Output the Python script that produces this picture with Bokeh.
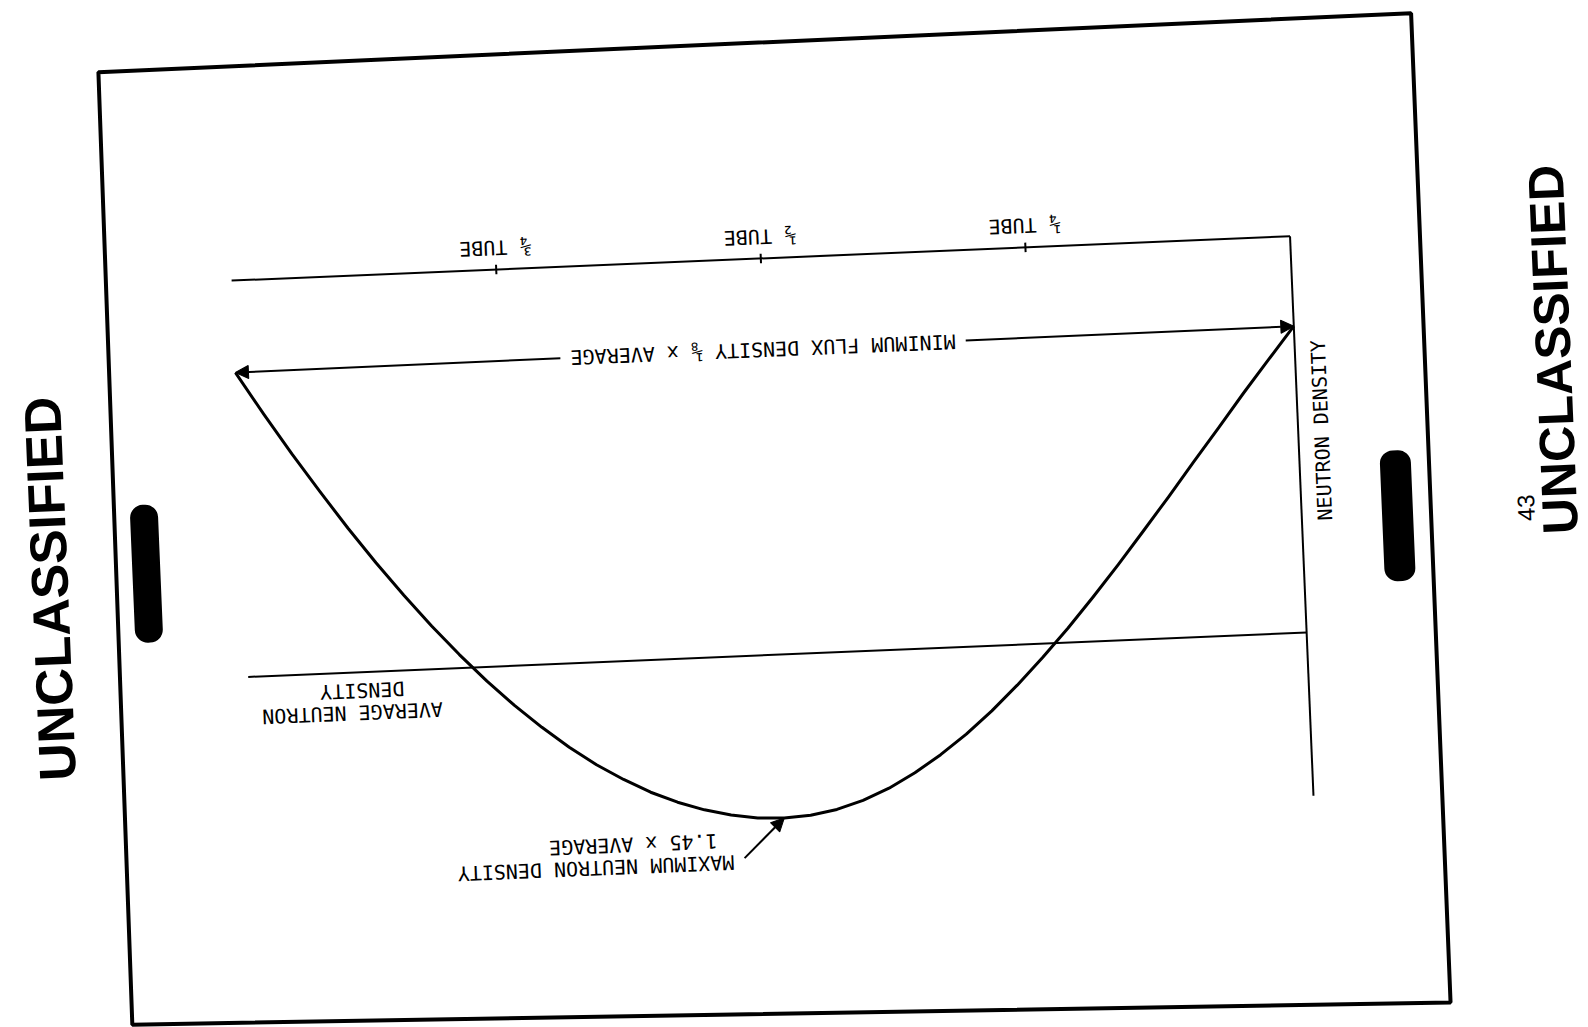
import math
from bokeh.plotting import figure
from bokeh.models import Range1d, Arrow, NormalHead, Label, BoxAnnotation, PolyAnnotation
from bokeh.layouts import column
from bokeh.core.properties import value
from bokeh.embed import file_html
from bokeh.resources import INLINE

# ---- values (position along tube, density relative to average) ----
tube_position = [0.000, 0.025, 0.050, 0.075, 0.100, 0.125, 0.150, 0.175, 0.200, 0.225,
                 0.250, 0.275, 0.300, 0.325, 0.350, 0.375, 0.400, 0.425, 0.450, 0.475,
                 0.500, 0.525, 0.550, 0.575, 0.600, 0.625, 0.650, 0.675, 0.700, 0.725,
                 0.750, 0.775, 0.800, 0.825, 0.850, 0.875, 0.900, 0.925, 0.950, 0.975, 1.000]
neutron_density = [0.227, 0.308, 0.390, 0.475, 0.559, 0.644, 0.727, 0.809, 0.888, 0.964,
                   1.035, 1.102, 1.164, 1.220, 1.269, 1.312, 1.348, 1.376, 1.396, 1.408,
                   1.412, 1.409, 1.399, 1.383, 1.361, 1.333, 1.298, 1.258, 1.211, 1.158,
                   1.100, 1.036, 0.966, 0.891, 0.811, 0.726, 0.636, 0.541, 0.443, 0.340, 0.232]
average_density = 1.0
tick_positions = [0.25, 0.50, 0.75]
tick_labels = ["¼ TUBE", "½ TUBE", "¾ TUBE"]
density_axis_label = "NEUTRON DENSITY"
min_note = "MINIMUM FLUX DENSITY ⅛ x AVERAGE"
max_note = ["MAXIMUM NEUTRON DENSITY", "1.45 x AVERAGE"]
avg_note = ["AVERAGE NEUTRON", "DENSITY"]
stamp_text = "UNCLASSIFIED"
page_number = "43"

# ---- layout ----
W, H = 1588, 1027
TILT = 2.4                      # scanned page is turned slightly
th = math.radians(TILT)
# the turned element is measured by its bounding box, so the canvas grows to it
W2 = round(W * math.cos(th) + H * math.sin(th))
H2 = round(W * math.sin(th) + H * math.cos(th))

X0, XS = 1301.5, 1060.0         # pixel of tube end 0, pixels per tube length
Y0, YS = 257.0, 397.0           # pixel of zero density, pixels per average density

MONO = value("DejaVu Sans Mono")
STAMP_FONT = "'Liberation Sans', Arial, sans-serif"

fig = figure(width=W, height=H,
             x_range=Range1d(X0 / XS, (X0 - W2) / XS),
             y_range=Range1d((H2 - Y0) / YS, -Y0 / YS),
             x_axis_location=None, y_axis_location=None,
             toolbar_location=None, tools="", output_backend="svg",
             min_border=0, background_fill_color="white",
             border_fill_color="white", outline_line_color=None)
fig.grid.visible = False

t0, t1 = tube_position[0], tube_position[-1]
d_max = max(neutron_density)
t_peak = tube_position[neutron_density.index(d_max)]

# density curve
fig.line(tube_position, neutron_density, line_color="black", line_width=3,
         line_join="round")
# tube axis with quarter ticks
fig.line([t0, t1], [0, 0], line_color="black", line_width=2)
fig.segment(x0=tick_positions, y0=[-0.012] * len(tick_positions),
            x1=tick_positions, y1=[0.012] * len(tick_positions),
            line_color="black", line_width=2)
# density axis
fig.line([t0, t0], [0, d_max], line_color="black", line_width=2)
# average density
fig.line([t1, t0], [average_density, average_density], line_color="black", line_width=2)

txt = dict(text_font=MONO, text_font_size="20px", text_color="black",
           text_align="center", text_baseline="middle")

fig.text(x=tick_positions, y=[-0.055] * len(tick_positions), text=tick_labels,
         angle=math.pi, **txt)
fig.text(x=[-0.022], y=[0.492], text=[density_axis_label], angle=math.pi / 2, **txt)

# minimum flux note with two arrows to the tube ends
def end_level(t):
    return neutron_density[0] + (neutron_density[-1] - neutron_density[0]) * (t - t0) / (t1 - t0)

gap_r, gap_l = 0.31, 0.693
for a, b, dv in [(gap_r, t0, neutron_density[0]), (gap_l, t1, neutron_density[-1])]:
    fig.add_layout(Arrow(end=NormalHead(size=13, fill_color="black", line_color="black"),
                         x_start=a, y_start=end_level(a), x_end=b, y_end=dv,
                         line_color="black", line_width=2))
mid = (gap_r + gap_l) / 2
fig.text(x=[mid], y=[end_level(mid)], text=[min_note], angle=math.pi, **txt)

# average note
fig.text(x=[0.903, 0.893], y=[1.102, 1.046], text=avg_note, angle=math.pi, **txt)

# maximum note
fig.text(x=[0.6795, 0.6434], y=[1.518, 1.463], text=max_note, angle=math.pi, **txt)
fig.add_layout(Arrow(end=NormalHead(size=13, fill_color="black", line_color="black"),
                     x_start=0.539, y_start=1.509, x_end=t_peak, y_end=d_max,
                     line_color="black", line_width=2))

# page frame (screen pixels, measured from the canvas bottom)
fig.add_layout(PolyAnnotation(xs=[117, 1431, 1429, 111],
                              ys=[H2 - 44, H2 - 40, H2 - 1030, H2 - 997],
                              xs_units="screen", ys_units="screen",
                              fill_alpha=0, line_color="black", line_alpha=1,
                              line_width=4))

# marker blobs
for l, r, tp, bt in [(130, 158, 478, 616), (1381, 1412, 476, 607)]:
    fig.add_layout(BoxAnnotation(left=l, right=r, top=H2 - tp, bottom=H2 - bt,
                                 left_units="screen", right_units="screen",
                                 top_units="screen", bottom_units="screen",
                                 fill_color="black", fill_alpha=1, line_alpha=0,
                                 border_radius=13))

# stamps and page number
fig.add_layout(Label(x=47, y=H2 - 558, x_units="screen", y_units="screen",
                     text=stamp_text, angle=math.pi / 2, text_align="center",
                     text_baseline="middle", text_font=STAMP_FONT,
                     text_font_style="bold", text_font_size="52px", text_color="black"))
fig.add_layout(Label(x=1559, y=H2 - 382, x_units="screen", y_units="screen",
                     text=stamp_text, angle=math.pi / 2, text_align="center",
                     text_baseline="middle", text_font=STAMP_FONT,
                     text_font_style="bold", text_font_size="50px", text_color="black"))
fig.add_layout(Label(x=1525, y=H2 - 539, x_units="screen", y_units="screen",
                     text=page_number, angle=math.pi / 2, text_align="center",
                     text_baseline="middle", text_font="Liberation Sans",
                     text_font_size="24px", text_color="black"))

fig.styles = {"transform": f"rotate(-{TILT}deg)", "transform-origin": "50% 50%"}
p = column(fig, width=W, height=H, styles={"overflow": "hidden"})

open("out.html", "w", encoding="utf-8").write(file_html(p, INLINE))
